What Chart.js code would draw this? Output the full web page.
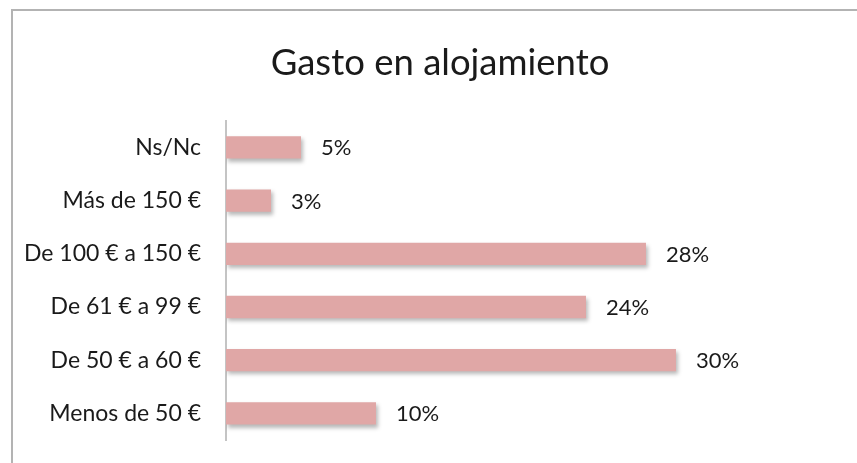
<!DOCTYPE html>
<html>
<head>
<meta charset="utf-8">
<script src="https://cdn.jsdelivr.net/npm/chart.js@4/dist/chart.umd.min.js"></script>
<style>
  html, body { margin: 0; padding: 0; background: #fff; }
  #wrap { position: relative; width: 857px; height: 463px; overflow: hidden; }
  #frame { position: absolute; left: 11px; top: 9px; width: 900px; height: 500px; border: 2px solid #b3b3b3; }
  canvas { position: absolute; left: 0; top: 0; }
</style>
</head>
<body>
<div id="wrap">
  <div id="frame"></div>
  <canvas id="chart" width="880" height="463"></canvas>
</div>
<script>
// categories top to bottom, as in the picture
const categories = ["Ns/Nc", "Más de 150 €", "De 100 € a 150 €", "De 61 € a 99 €", "De 50 € a 60 €", "Menos de 50 €"];
const values = [5, 3, 28, 24, 30, 10];
const barColor = "#e0a7a6";

// value labels at the end of each bar
const endLabels = {
  id: "endLabels",
  afterDatasetsDraw(chart) {
    const ctx = chart.ctx;
    const meta = chart.getDatasetMeta(0);
    ctx.save();
    ctx.font = "22px Lato";
    ctx.fillStyle = "#1a1a1a";
    ctx.textAlign = "left";
    ctx.textBaseline = "middle";
    meta.data.forEach((bar, i) => {
      ctx.fillText(values[i] + "%", bar.x + 20, bar.y + 1);
    });
    ctx.restore();
  }
};

// soft drop shadow under the bars
const barShadow = {
  id: "barShadow",
  beforeDatasetsDraw(chart) {
    const ctx = chart.ctx;
    ctx.save();
    ctx.shadowColor = "rgba(0,0,0,0.28)";
    ctx.shadowBlur = 4;
    ctx.shadowOffsetX = 2;
    ctx.shadowOffsetY = 3;
  },
  afterDatasetsDraw(chart) {
    chart.ctx.restore();
  }
};

const ctx = document.getElementById("chart").getContext("2d");
const chart = new Chart(ctx, {
  type: "bar",
  data: {
    labels: categories,
    datasets: [
      {
        data: values,
        backgroundColor: barColor,
        borderWidth: 0,
        categoryPercentage: 1,
        barPercentage: 0.42
      }
    ]
  },
  options: {
    indexAxis: "y",
    responsive: false,
    animation: false,
    layout: {
      padding: { left: 14, right: 14, top: 0, bottom: 23 }
    },
    plugins: {
      legend: { display: false },
      tooltip: { enabled: false },
      title: {
        display: true,
        text: "Gasto en alojamiento",
        color: "#1a1a1a",
        font: { family: "Lato", size: 36.5, weight: "normal", lineHeight: 1.2 },
        padding: { top: 41, bottom: 36 }
      }
    },
    scales: {
      x: {
        display: false,
        min: 0,
        max: 42.67
      },
      y: {
        afterFit: function (scale) {
          scale.width = 212;
          scale.paddingTop = 0;
          scale.paddingBottom = 0;
        },
        grid: { display: false, drawTicks: false },
        border: { display: true, color: "#c4c4c4", width: 2 },
        ticks: {
          padding: 25,
          color: "#1a1a1a",
          font: { family: "Lato", size: 23 }
        }
      }
    }
  },
  plugins: [barShadow, endLabels]
});
</script>
</body>
</html>
